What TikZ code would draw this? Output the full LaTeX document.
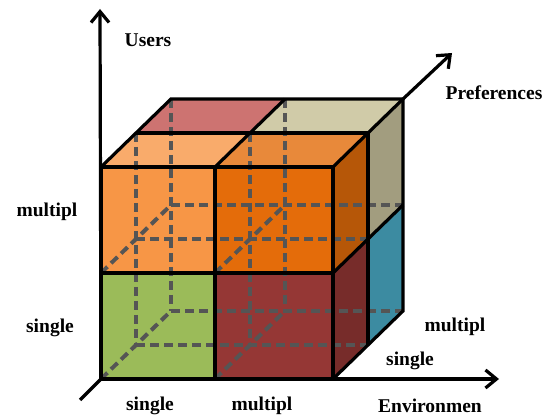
\documentclass[tikz,border=0pt]{standalone}
\usepackage{fontspec}
\setmainfont{Liberation Serif}
\usetikzlibrary{arrows.meta}
\definecolor{cLO}{HTML}{F79646}
\definecolor{cLOtop}{HTML}{F9AB6B}
\definecolor{cDO}{HTML}{E46C0A}
\definecolor{cDOtop}{HTML}{E8893A}
\definecolor{cDOside}{HTML}{B65708}
\definecolor{cGR}{HTML}{9BBB59}
\definecolor{cRD}{HTML}{953735}
\definecolor{cRDside}{HTML}{772C2A}
\definecolor{cPK}{HTML}{CD7371}
\definecolor{cBG}{HTML}{D0CBA8}
\definecolor{cKH}{HTML}{A29D7F}
\definecolor{cBL}{HTML}{3C8BA1}
\definecolor{cDash}{HTML}{555555}
\tikzset{
  edge/.style={line width=3.2pt, line join=miter, black},
  hidden/.style={line width=4pt, cDash, dash pattern=on 9pt off 5pt},
  axis/.style={line width=3.2pt, black, -{Straight Barb[length=11pt,width=18pt,line width=3.2pt]}},
  lbl/.style={font=\fontsize{19.5}{22}\selectfont\bfseries, inner sep=0pt},
}
\begin{document}
\begin{tikzpicture}[x=1pt,y=-1pt]
\useasboundingbox (0,0) rectangle (555,419);
% key coordinates: front (f), half depth (h), back (b)
\coordinate (fTL) at (101,167); \coordinate (fTM) at (215,167); \coordinate (fTR) at (333,167);
\coordinate (fML) at (101,273); \coordinate (fMM) at (215,273); \coordinate (fMR) at (333,273);
\coordinate (fBL) at (101,379); \coordinate (fBM) at (215,379); \coordinate (fBR) at (333,379);
\coordinate (hTL) at (136,133); \coordinate (hTM) at (250,133); \coordinate (hTR) at (368,133);
\coordinate (hML) at (136,239); \coordinate (hMM) at (250,239); \coordinate (hMR) at (368,239);
\coordinate (hBL) at (136,345); \coordinate (hBM) at (250,345); \coordinate (hBR) at (368,345);
\coordinate (bTL) at (171,99); \coordinate (bTM) at (285,99); \coordinate (bTR) at (403,99);
\coordinate (bML) at (171,205); \coordinate (bMM) at (285,205); \coordinate (bMR) at (403,205);
\coordinate (bBL) at (171,311); \coordinate (bBM) at (285,311); \coordinate (bBR) at (403,311);
\coordinate (yTip) at (100,9);
\coordinate (zTip) at (452,53);
\coordinate (zTail) at (80,400);
\coordinate (xTip) at (499,379);
% back layer faces
\fill[cPK] (hTL) -- (bTL) -- (bTM) -- (hTM) -- cycle;
\fill[cBG] (hTM) -- (bTM) -- (bTR) -- (hTR) -- cycle;
\fill[cKH] (hTR) -- (bTR) -- (bMR) -- (hMR) -- cycle;
\fill[cBL] (hMR) -- (bMR) -- (bBR) -- (hBR) -- cycle;
% front layer faces
\fill[cLOtop] (fTL) -- (hTL) -- (hTM) -- (fTM) -- cycle;
\fill[cDOtop] (fTM) -- (hTM) -- (hTR) -- (fTR) -- cycle;
\fill[cDOside] (fTR) -- (hTR) -- (hMR) -- (fMR) -- cycle;
\fill[cRDside] (fMR) -- (hMR) -- (hBR) -- (fBR) -- cycle;
\fill[cLO] (fTL) rectangle (fMM);
\fill[cDO] (fTM) rectangle (fMR);
\fill[cGR] (fML) rectangle (fBM);
\fill[cRD] (fMM) rectangle (fBR);
% hidden edges
\draw[hidden] (hTL) -- (hBL);
\draw[hidden] (bTL) -- (bBL);
\draw[hidden] (hTM) -- (hBM);
\draw[hidden] (bTM) -- (bBM);
\draw[hidden] (hML) -- (hMR);
\draw[hidden] (bML) -- (bMR);
\draw[hidden] (hBL) -- (hBR);
\draw[hidden] (bBL) -- (bBR);
\draw[hidden] (fML) -- (bML);
\draw[hidden] (fMM) -- (bMM);
\draw[hidden] (fBL) -- (bBL);
\draw[hidden] (fBM) -- (bBM);
% visible edges
\draw[edge] (fTL) rectangle (fBR);
\draw[edge] (fTM) -- (fBM);
\draw[edge] (fML) -- (fMR);
\draw[edge] (fTL) -- (bTL) -- (bTR) -- (bBR) -- (fBR);
\draw[edge] (hTL) -- (hTR) -- (hBR);
\draw[edge] (fTM) -- (bTM);
\draw[edge] (fTR) -- (bTR);
\draw[edge] (fMR) -- (bMR);
% axes
\draw[axis] (fBL) -- (yTip);
\draw[axis] (fBL) -- (xTip);
\draw[axis] (bTR) -- (zTip);
\draw[edge] (fBL) -- (zTail);
% labels
\node[lbl] (users) at (148,40) {Users};
\node[lbl] (pref) at (494,93) {Preferences};
\node[lbl] (lmul) at (47,212) {multipl};
\node[lbl] (lsin) at (50,328) {single};
\node[lbl] (rmul) at (455,327) {multipl};
\node[lbl] (rsin) at (410,361) {single};
\node[lbl] (bsin) at (150,406) {single};
\node[lbl] (bmul) at (262,406) {multipl};
\node[lbl] (env) at (430,406) {Environmen};
\end{tikzpicture}
\end{document}
